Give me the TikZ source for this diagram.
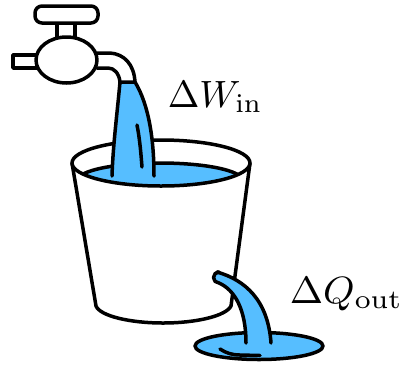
\documentclass[tikz,border=0pt]{standalone}
\begin{document}
\begin{tikzpicture}[x=1pt,y=-1pt,line join=round,
  ink/.style={line width=3.5pt,line cap=round},
  water/.style={fill=waterblue},
  lbl/.style={inner sep=0pt,anchor=base west}]
\definecolor{waterblue}{RGB}{86,190,255}
\useasboundingbox (0,0) rectangle (407,368);

% bucket walls and bottom
\draw[ink,fill=white] (72,163) -- (96,306)
  .. controls (100,316) and (130,323) .. (163,323)
  .. controls (196,323) and (226,316) .. (231,306) -- (250,163);

% bucket opening with the water inside
\fill[white] (161,163) ellipse[x radius=89,y radius=23];
\begin{scope}
  \clip (161,163) ellipse[x radius=89,y radius=23];
  \fill[water] (160,180) ellipse[x radius=82,y radius=17];
  \fill[water] (60,180) rectangle (260,200);
  \draw[ink] (160-82,180) arc[start angle=180,end angle=360,x radius=82,y radius=17];
\end{scope}
\draw[ink] (161,163) ellipse[x radius=89,y radius=23];

% stream from the tap into the bucket
\fill[water] (120,82) .. controls (117,115) and (113,145) .. (112,176)
  -- (154,176) .. controls (154,140) and (149,105) .. (135,82) -- cycle;
\draw[ink] (120,82) .. controls (117,115) and (113,145) .. (112,176);
\draw[ink] (135,82) .. controls (149,105) and (154,140) .. (154,176);
\draw[ink] (137,125) .. controls (140,140) and (141,155) .. (142,167);

% tap
\draw[ink,fill=white] (97,53) -- (110,53) .. controls (124,54) and (134,64) .. (135,82)
  -- (120,82) .. controls (119,73) and (114,68) .. (108,68) -- (97,68);
\draw[ink,fill=white] (13,55) rectangle (37,68);
\draw[ink,fill=white] (57,22) rectangle (75,38);
\draw[ink,fill=white,rounded corners=7pt] (35,6) rectangle (98,23);
\draw[ink,fill=white] (66.5,60) ellipse[x radius=30.5,y radius=23];

% puddle and the jet leaving the bucket
\draw[ink,water] (259,346) ellipse[x radius=64,y radius=13.5];
\draw[ink] (220,349) .. controls (226,353) and (232,355) .. (240,355) -- (260,355.5);
\fill[water] (217,272) .. controls (245,280) and (268,300) .. (271,343)
  -- (246,343) .. controls (246,310) and (235,290) .. (219,283)
  arc[start angle=90,end angle=270,radius=5.5] -- cycle;
\draw[ink] (217,272) .. controls (245,280) and (268,300) .. (271,343);
\draw[ink] (246,343) .. controls (246,310) and (235,290) .. (219,283)
  arc[start angle=90,end angle=270,radius=5.5] -- (217,272);

% labels
\node[lbl,xscale=3.8,yscale=3.8] (win) at (167,107) {$\Delta W_{\rm in}$};
\node[lbl,xscale=4.0,yscale=3.8] (qout) at (289,303) {$\Delta Q_{\rm out}$};
\end{tikzpicture}
\end{document}
